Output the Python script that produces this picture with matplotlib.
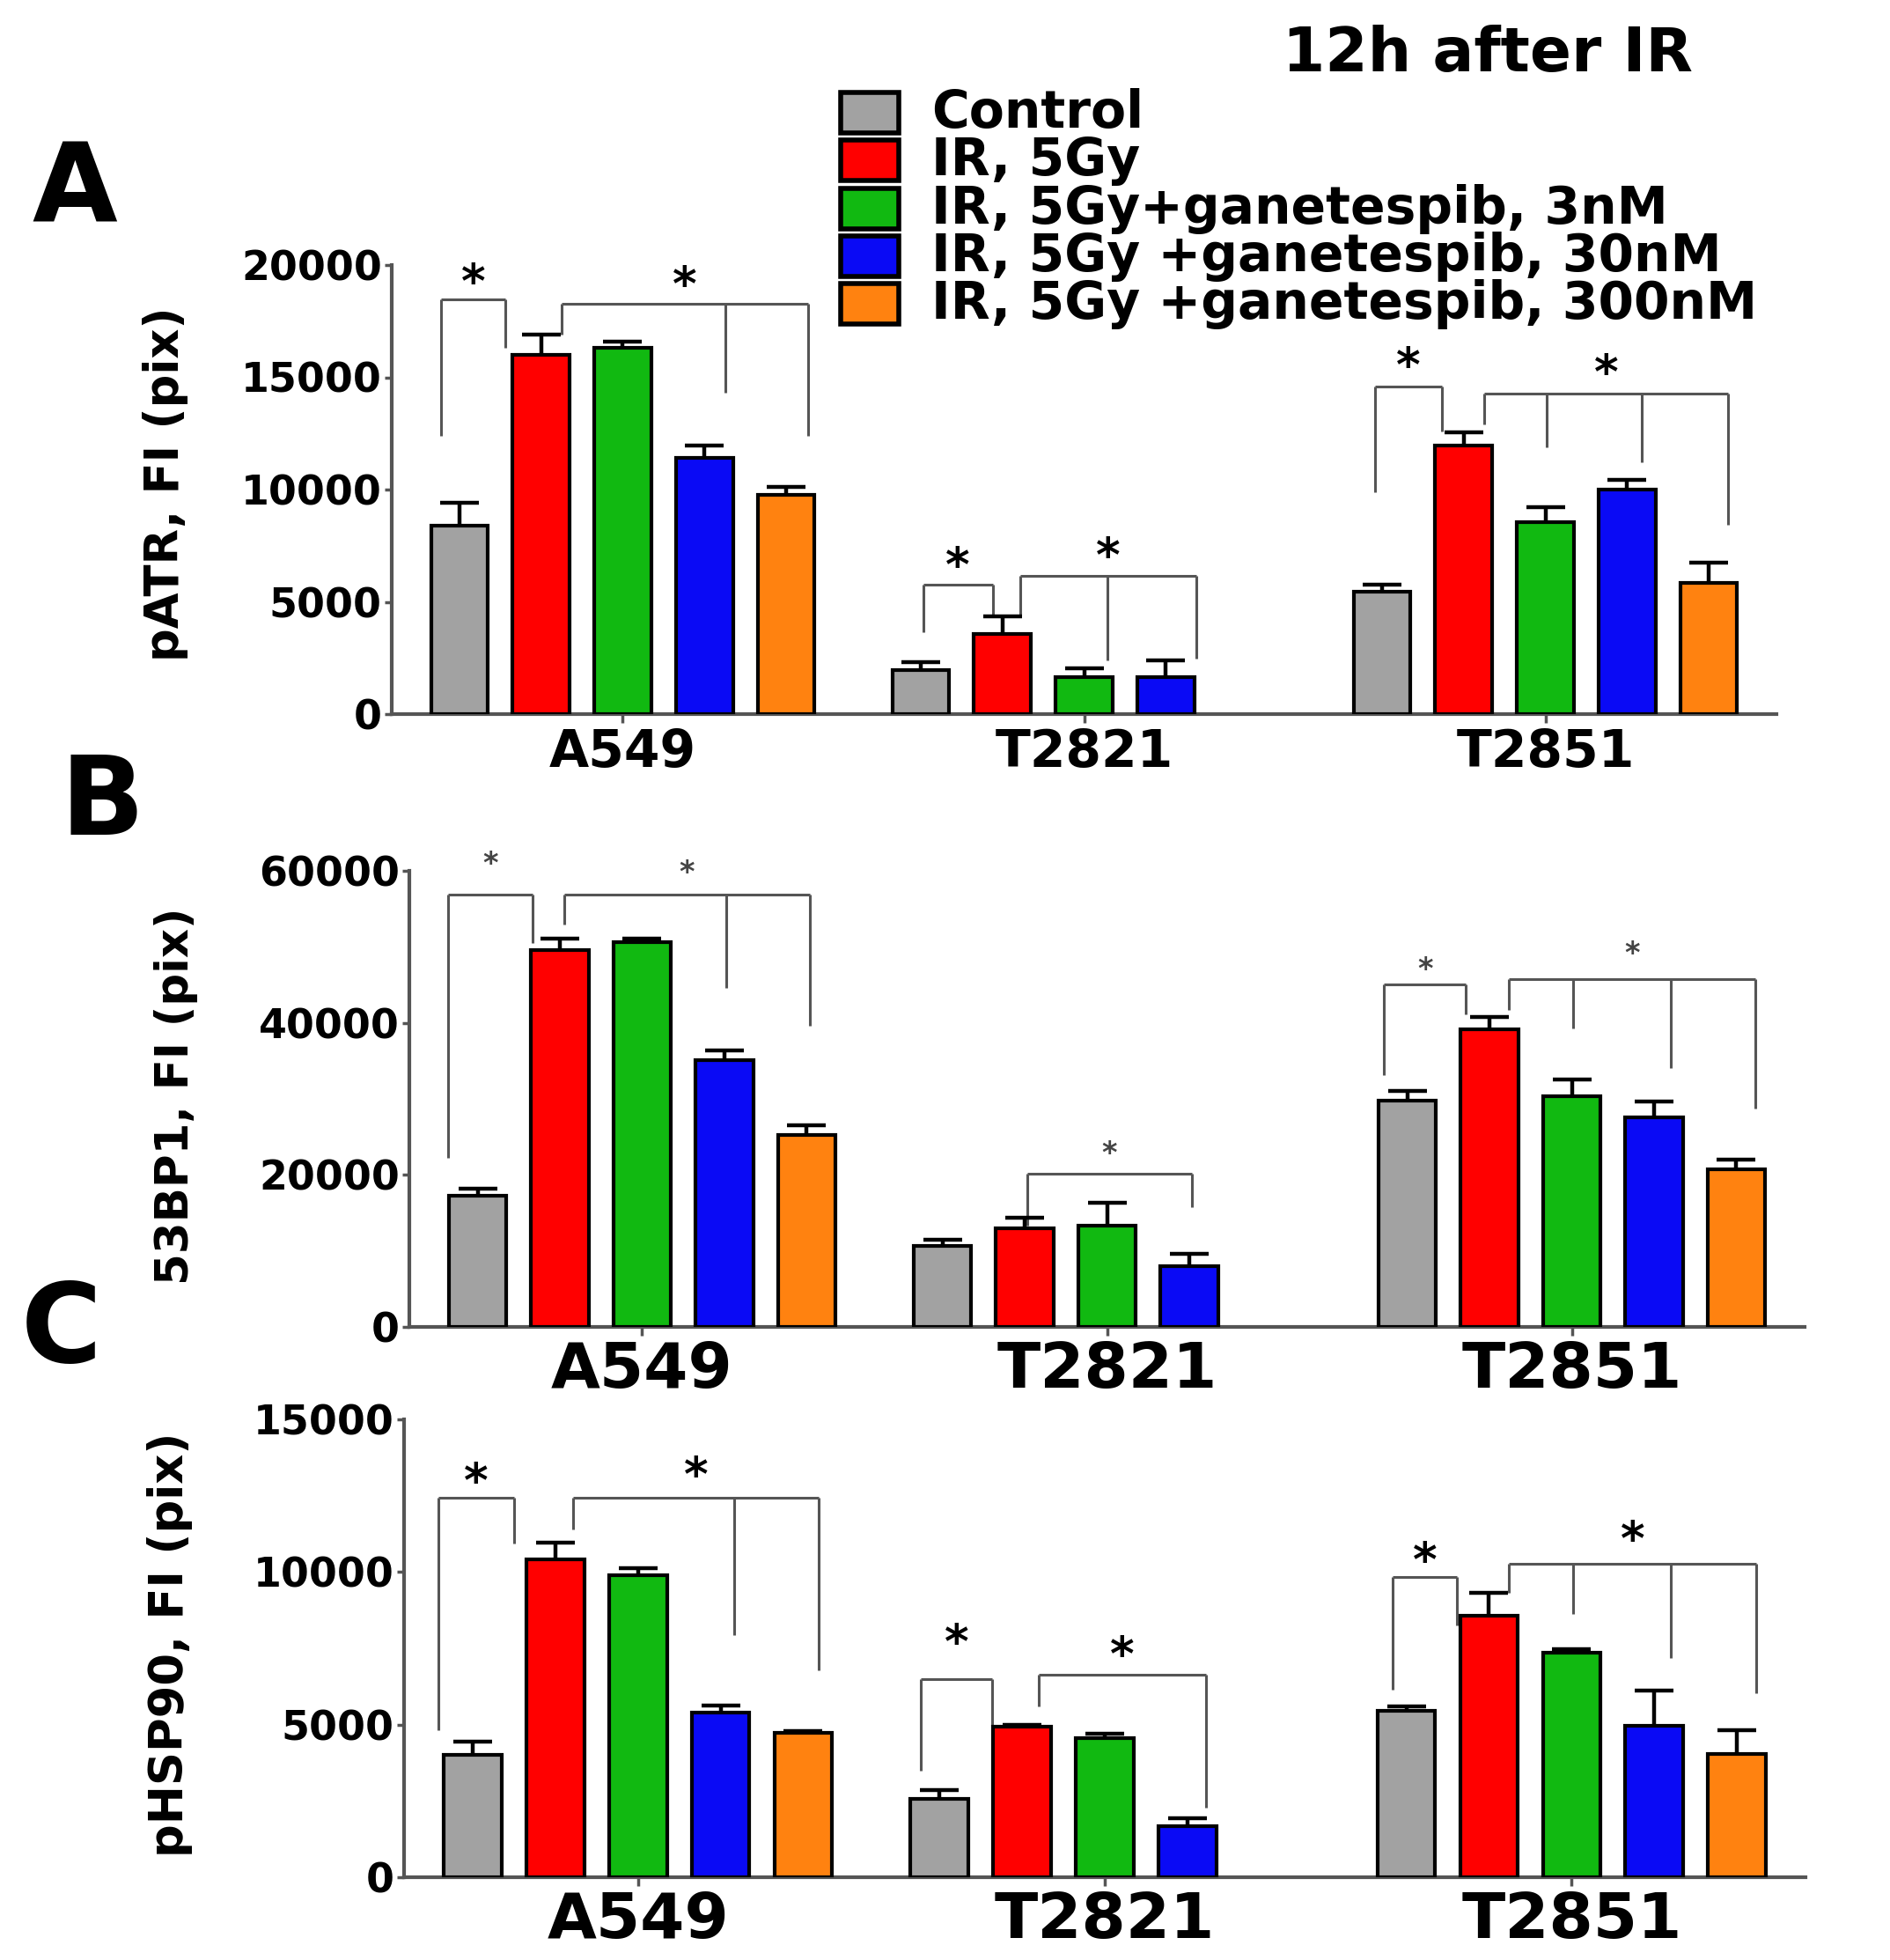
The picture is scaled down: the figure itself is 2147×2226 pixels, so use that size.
import matplotlib
matplotlib.use("Agg")
import matplotlib.pyplot as plt
from matplotlib.patches import Rectangle
import numpy as np

plt.rcParams['font.family'] = ['DejaVu Sans']
plt.rcParams['font.weight'] = 'bold'

# Data (12h after IR)
groups = ["A549", "T2821", "T2851"]
treatments = ["Control", "IR, 5Gy", "IR, 5Gy+ganetespib, 3nM",
              "IR, 5Gy +ganetespib, 30nM", "IR, 5Gy +ganetespib, 300nM"]
colors = ["#a2a2a2", "#ff0000", "#11b911", "#0a0af5", "#ff8210"]
nan = np.nan

patr_mean = [[8400, 16000, 16300, 11400, 9750],
             [1950, 3550, 1650, 1650, nan],
             [5450, 11950, 8550, 10000, 5850]]
patr_err = [[1000, 900, 300, 550, 350],
            [350, 800, 380, 750, nan],
            [320, 600, 680, 430, 900]]

bp53_mean = [[17300, 49600, 50600, 35100, 25300],
             [10600, 13000, 13300, 8000, nan],
             [29800, 39200, 30300, 27600, 20700]]
bp53_err = [[900, 1500, 500, 1300, 1200],
            [900, 1400, 3000, 1600, nan],
            [1300, 1600, 2300, 2100, 1300]]

phsp_mean = [[4000, 10400, 9900, 5400, 4720],
             [2580, 4920, 4570, 1670, nan],
             [5440, 8560, 7350, 4970, 4050]]
phsp_err = [[430, 570, 230, 230, 80],
            [270, 60, 130, 270, nan],
            [170, 760, 130, 1140, 760]]

# significance brackets: (group, bracket top, [(bar position, leg bottom)], star y)
patr_sig = [(0, 18470, [(-0.23, 12400), (0.56, 16300)], 19150),
            (0, 18260, [(1.25, 16900), (3.26, 14300), (4.27, 12400)], 19000),
            (1, 5770, [(0.03, 3650), (0.88, 4400)], 6500),
            (1, 6160, [(1.22, 4400), (2.29, 2380), (3.37, 2480)], 6940),
            (2, 14600, [(-0.09, 9900), (0.73, 12570)], 15400),
            (2, 14270, [(1.25, 12900), (2.02, 11900), (3.18, 11200), (4.24, 8430)], 15100)]
bp53_sig = [(0, 56900, [(-0.36, 22200), (0.67, 50500)], 60900),
            (0, 56900, [(1.05, 52900), (3.02, 44600), (4.04, 39600)], 59700),
            (1, 20100, [(1.03, 13300), (3.03, 15700)], 22800),
            (2, 45100, [(-0.28, 33100), (0.71, 41100)], 47000),
            (2, 45800, [(1.24, 41700), (2.02, 39300), (3.2, 34000), (4.23, 28700)], 49100)]
phsp_sig = [(0, 12430, [(-0.41, 4810), (0.5, 10920)], 12900),
            (0, 12430, [(1.22, 11400), (3.17, 7930), (4.19, 6780)], 13100),
            (1, 6480, [(-0.23, 3480), (0.64, 4950)], 7620),
            (1, 6640, [(1.2, 5610), (3.23, 2270)], 7220),
            (2, 9830, [(-0.17, 6150), (0.61, 8250)], 10300),
            (2, 10270, [(1.24, 9320), (2.02, 8620), (3.2, 7180), (4.23, 6020)], 11000)]

GROUP_STEP = 5.65
AXIS_GRAY = "#555555"


def bar_x(g, pos):
    return g * GROUP_STEP + pos - 2


def draw_panel(ax, means, errs, sig, ymax, yticks, ylabel_size, xlabel_size,
               star_size, star_color):
    for i, color in enumerate(colors):
        xs, hs, es = [], [], []
        for g in range(len(groups)):
            if not np.isnan(means[g][i]):
                xs.append(bar_x(g, i))
                hs.append(means[g][i])
                es.append(errs[g][i])
        bc = ax.bar(xs, hs, width=0.7, color=color, edgecolor="black", linewidth=3,
                    yerr=[np.zeros(len(es)), es], capsize=16, zorder=3,
                    error_kw=dict(elinewidth=3.2, capthick=3.2, ecolor="black", zorder=4))
        # only the upper half of each error bar is shown
        for cap in bc.errorbar.lines[1]:
            if np.allclose(cap.get_ydata(), hs):
                cap.set_visible(False)

    for g, top, legs, star_y in sig:
        lx = [bar_x(g, p) for p, _ in legs]
        ax.plot([lx[0], lx[-1]], [top, top], color=AXIS_GRAY, lw=2.2,
                solid_capstyle="butt", clip_on=False, zorder=2)
        for x, b in zip(lx, [b for _, b in legs]):
            ax.plot([x, x], [b, top], color=AXIS_GRAY, lw=2.2,
                    solid_capstyle="butt", clip_on=False, zorder=2)
        ax.text((lx[0] + lx[-1]) / 2, star_y, "*", ha="center", va="center",
                fontsize=star_size, color=star_color, fontweight="bold",
                clip_on=False)

    ax.set_xlim(-2.83, 2 * GROUP_STEP + 2.83)
    ax.set_ylim(0, ymax)
    ax.set_yticks(yticks)
    ax.set_yticklabels([str(t) for t in yticks])
    ax.set_xticks([bar_x(g, 2) for g in range(len(groups))])
    ax.set_xticklabels(groups, fontsize=xlabel_size)
    for s in ["top", "right"]:
        ax.spines[s].set_visible(False)
    for s in ["left", "bottom"]:
        ax.spines[s].set_color(AXIS_GRAY)
        ax.spines[s].set_linewidth(3)
    ax.tick_params(axis="y", labelsize=ylabel_size, length=6, width=2.5,
                   color=AXIS_GRAY, pad=2)
    ax.tick_params(axis="x", length=7, width=2.5, color=AXIS_GRAY, pad=4)


W, H = 2147, 2226
fig = plt.figure(figsize=(W / 100, H / 100), dpi=100)


def px_axes(left, right, top, bottom):
    return fig.add_axes([left / W, 1 - bottom / H, (right - left) / W, (bottom - top) / H])


ax_a = px_axes(445, 2018, 301, 811)
draw_panel(ax_a, patr_mean, patr_err, patr_sig, 20000,
           [0, 5000, 10000, 15000, 20000], 33, 42, 38, "black")
ax_b = px_axes(465, 2050, 989, 1507)
draw_panel(ax_b, bp53_mean, bp53_err, bp53_sig, 60000,
           [0, 20000, 40000, 60000], 33, 52, 24, "#444444")
ax_c = px_axes(459, 2051, 1612, 2132)
draw_panel(ax_c, phsp_mean, phsp_err, phsp_sig, 15000,
           [0, 5000, 10000, 15000], 33, 52, 38, "black")

# y axis labels
fig.text(188 / W, 1 - 550 / H, "pATR, FI (pix)", rotation=90, ha="center",
         va="center", fontsize=38)
fig.text(200 / W, 1 - 1245 / H, "53BP1, FI (pix)", rotation=90, ha="center",
         va="center", fontsize=37)
fig.text(193 / W, 1 - 1868 / H, "pHSP90, FI (pix)", rotation=90, ha="center",
         va="center", fontsize=38)

# panel letters
fig.text(85 / W, 1 - 252 / H, "A", ha="center", va="baseline", fontsize=90)
fig.text(116 / W, 1 - 948 / H, "B", ha="center", va="baseline", fontsize=90)
fig.text(70 / W, 1 - 1547 / H, "C", ha="center", va="baseline", fontsize=90)

# title
fig.text(1690 / W, 1 - 81 / H, "12h after IR", ha="center", va="baseline",
         fontsize=50)

# legend (drawn by hand to follow the reference layout)
for i, (label, color) in enumerate(zip(treatments, colors)):
    top = 103 + i * 54.3
    fig.patches.append(Rectangle((955 / W, 1 - (top + 48) / H), 66 / W, 46 / H,
                                 facecolor=color, edgecolor="black", linewidth=4,
                                 transform=fig.transFigure, figure=fig))
    fig.text(1058 / W, 1 - (145 + i * 54.3) / H, label, ha="left",
             va="baseline", fontsize=42)

fig.savefig("out.png", dpi=100)
